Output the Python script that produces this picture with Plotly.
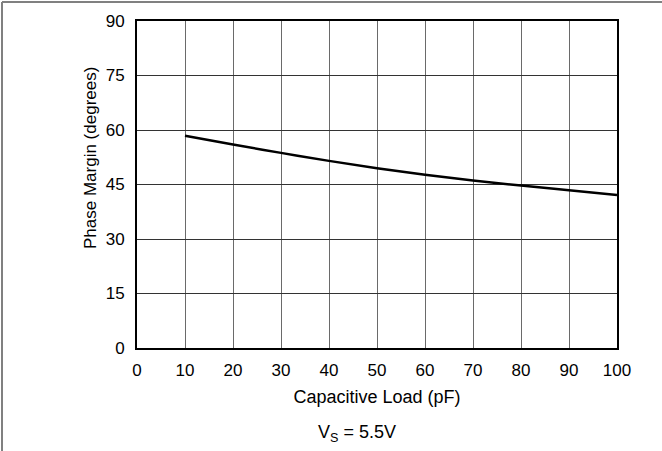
import plotly.graph_objects as go

cap_load = [10, 20, 30, 40, 50, 60, 70, 80, 90, 100]
phase_margin = [58.4, 56.0, 53.7, 51.5, 49.5, 47.7, 46.1, 44.7, 43.4, 42.1]
x_ticks = [0, 10, 20, 30, 40, 50, 60, 70, 80, 90, 100]
y_ticks = [0, 15, 30, 45, 60, 75, 90]

FONT = "Liberation Sans, Arial, sans-serif"

fig = go.Figure()
fig.add_trace(go.Scatter(x=cap_load, y=phase_margin, mode="lines",
                         line=dict(color="black", width=2.5, shape="spline"),
                         showlegend=False, hoverinfo="skip"))

W, H = 662, 451
L, R, T, B = 137, 617, 21, 348
pw, ph = R - L, B - T

def px(x):
    return (x - L) / pw

def py(y):
    return (B - y) / ph

fig.update_layout(
    width=W, height=H,
    margin=dict(l=L, r=W - R, t=T, b=H - B, pad=0),
    paper_bgcolor="white", plot_bgcolor="white",
    font=dict(family=FONT, color="black", size=17),
    xaxis=dict(range=[0, 100], tickvals=x_ticks, ticks="", showgrid=True,
               gridcolor="#6a6a6a", gridwidth=1, showline=True, linecolor="black",
               linewidth=2, mirror=True, zeroline=False,
               tickfont=dict(size=17), ticklabelstandoff=6,
               title=dict(text="Capacitive Load (pF)", font=dict(size=18), standoff=11)),
    yaxis=dict(range=[0, 90], tickvals=y_ticks, ticks="", showgrid=True,
               gridcolor="#333333", gridwidth=1, showline=True, linecolor="black",
               linewidth=2, mirror=True, zeroline=False,
               tickfont=dict(size=17), ticklabelstandoff=7),
    annotations=[
        dict(text="Phase Margin (degrees)", xref="paper", yref="paper",
             x=px(90), y=py(158), textangle=-90, showarrow=False,
             font=dict(size=17), xanchor="center", yanchor="middle"),
        dict(text="V<sub>S</sub> = 5.5V", xref="paper", yref="paper",
             x=px(357), y=py(433), showarrow=False, font=dict(size=18),
             xanchor="center", yanchor="middle"),
    ],
    shapes=[
        dict(type="line", xref="paper", yref="paper", x0=px(2), x1=px(W + 5),
             y0=py(2), y1=py(2), line=dict(color="#808080", width=2)),
        dict(type="line", xref="paper", yref="paper", x0=px(2), x1=px(2),
             y0=py(2), y1=py(H + 5), line=dict(color="#808080", width=2)),
    ],
)

fig.write_html("out.html", config={"displayModeBar": False},
               post_script="document.body.style.margin='0';document.body.style.overflow='hidden';")
